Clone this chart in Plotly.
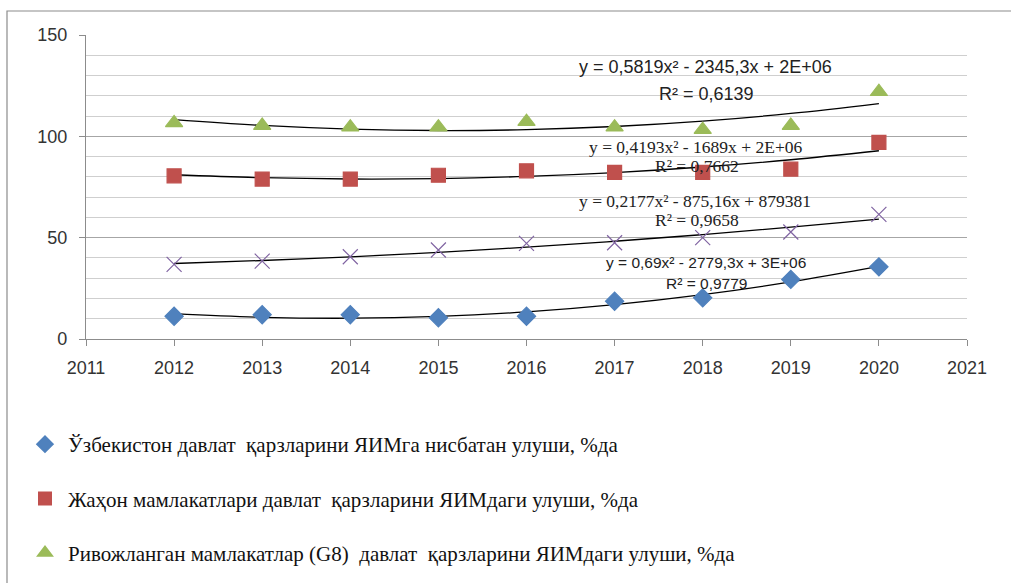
import numpy as np
import plotly.graph_objects as go

years = [2012, 2013, 2014, 2015, 2016, 2017, 2018, 2019, 2020]
uzb = [11.2, 12.0, 12.0, 10.5, 11.2, 18.6, 20.3, 29.4, 35.6]
world = [80.5, 78.9, 78.9, 80.8, 83.0, 82.2, 82.2, 83.8, 97.0]
g8 = [106.6, 105.3, 104.5, 104.5, 107.2, 104.5, 103.3, 105.3, 122.0]
other = [36.8, 38.4, 40.6, 43.9, 47.2, 47.5, 50.0, 52.8, 61.5]

names = [
    "Ўзбекистон давлат  қарзларини ЯИМга нисбатан улуши, %да",
    "Жаҳон мамлакатлари давлат  қарзларини ЯИМдаги улуши, %да",
    "Ривожланган мамлакатлар (G8)  давлат  қарзларини ЯИМдаги улуши, %да",
    "",
]
equations = [
    ("y = 0,69x² - 2779,3x + 3E+06", "R² = 0,9779"),
    ("y = 0,4193x² - 1689x + 2E+06", "R² = 0,7662"),
    ("y = 0,5819x² - 2345,3x + 2E+06", "R² = 0,6139"),
    ("y = 0,2177x² - 875,16x + 879381", "R² = 0,9658"),
]

series = [uzb, world, g8, other]
colors = ["#4F81BD", "#C0504D", "#9BBB59", "#8064A2"]
symbols = ["diamond", "square", "triangle-up", "x-thin-open"]
sizes = [14, 14, 15, 15]

fig = go.Figure()
xs = np.array(years, dtype=float)
for i, ys in enumerate(series):
    c = np.polyfit(xs - 2016, np.array(ys), 2)
    fit = np.polyval(c, xs - 2016)
    fig.add_trace(go.Scatter(x=years, y=fit, mode="lines", line=dict(color="black", width=1.3, shape="spline"),
                             showlegend=False, hoverinfo="skip"))
for i, ys in enumerate(series):
    fig.add_trace(go.Scatter(
        x=years, y=ys, mode="markers", name=names[i],
        marker=dict(symbol=symbols[i], color=colors[i], size=sizes[i],
                    line=dict(color=colors[i], width=1.2)),
        showlegend=(i < 3), legendgroup=f"g{i}",
    ))

ann = [
    (equations[2][0], 2018.03, 134.3, "Liberation Sans", 18),
    (equations[2][1], 2018.04, 121.0, "Liberation Sans", 18),
    (equations[1][0], 2017.92, 94.6, "Liberation Serif", 17.5),
    (equations[1][1], 2017.94, 85.4, "Liberation Serif", 17.5),
    (equations[3][0], 2017.91, 68.1, "Liberation Serif", 17.5),
    (equations[3][1], 2017.94, 58.7, "Liberation Serif", 17.5),
    (equations[0][0], 2018.04, 37.6, "Liberation Sans", 15.5),
    (equations[0][1], 2018.04, 27.4, "Liberation Sans", 15.5),
]
for t, x, y, f, s in ann:
    fig.add_annotation(x=x, y=y, text=t, showarrow=False, xanchor="center", yanchor="middle",
                       font=dict(family=f, size=s, color="#222"))

fig.add_shape(type="rect", xref="paper", yref="paper", x0=(7 - 86) / 881, x1=1.2,
              y0=-1.5, y1=(339 - 11) / 304, line=dict(color="#8c8c8c", width=1.2), layer="below")

fig.update_layout(
    width=1011, height=583,
    margin=dict(l=86, r=44, t=35, b=244, autoexpand=False),
    paper_bgcolor="white", plot_bgcolor="white",
    font=dict(family="Liberation Sans", size=18, color="#333"),
    xaxis=dict(range=[2011, 2021], dtick=1, tick0=2011, showgrid=False, showline=True,
               linecolor="#8c8c8c", linewidth=1.2, ticks="outside", ticklen=6, tickcolor="#8c8c8c",
               tickfont=dict(size=18, color="#333"), zeroline=False, tickangle=0,
               ticklabelstandoff=6),
    yaxis=dict(range=[0, 150], dtick=50, showgrid=True, gridcolor="#a6a6a6", gridwidth=1.2,
               minor=dict(dtick=10, showgrid=True, gridcolor="#cfcfcf", gridwidth=1.2),
               showline=True, linecolor="#8c8c8c", linewidth=1.2, ticks="outside", ticklen=6,
               tickcolor="#8c8c8c", tickfont=dict(size=18, color="#333"), zeroline=False,
               ticklabelstandoff=8),
    legend=dict(xref="container", yref="container", x=22 / 1011, y=1 - 424 / 583,
                xanchor="left", yanchor="top", tracegroupgap=24, itemsizing="constant",
                itemwidth=36,
                font=dict(family="Liberation Serif, Noto Serif, DejaVu Serif, serif", size=21, color="#111"),
                bgcolor="rgba(0,0,0,0)"),
)
fig.write_html("out.html", config={"displayModeBar": False},
               post_script="document.body.style.margin='0';")
